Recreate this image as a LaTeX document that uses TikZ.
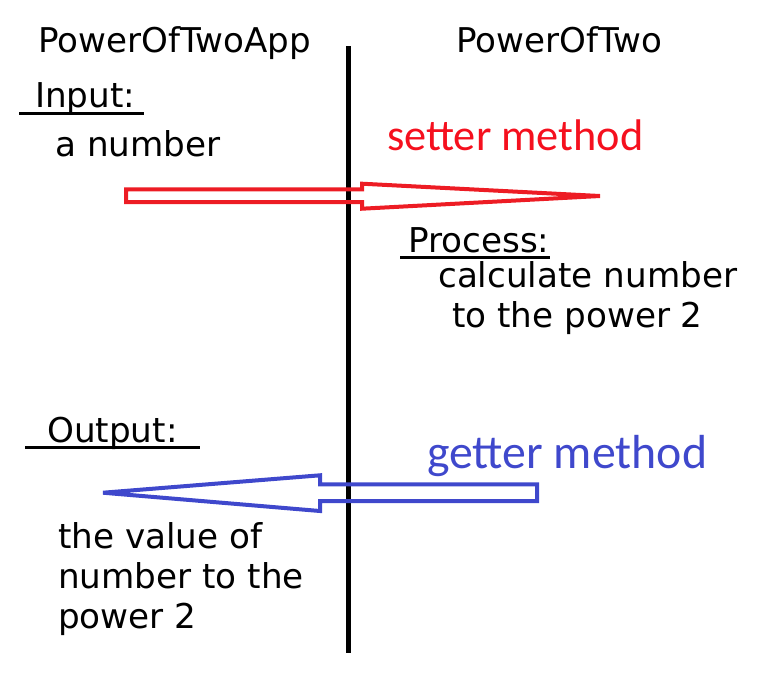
\documentclass[tikz,border=0pt]{standalone}
\usepackage{fontspec}
\setmainfont{DejaVu Sans}
\newfontfamily\calibri{Carlito}
\usetikzlibrary{positioning}
\definecolor{paintred}{HTML}{ED1C24}
\definecolor{paintblue}{HTML}{3F48CC}
\definecolor{setred}{HTML}{F5101E}

\begin{document}
\begin{tikzpicture}[
    x=1pt, y=-1pt,
    txt/.style={inner sep=0pt,anchor=base west,font=\fontsize{34.2}{40}\selectfont,align=left},
    title/.style={inner sep=0pt,anchor=base west,font=\fontsize{34.1}{40}\selectfont},
    method/.style={inner sep=0pt,anchor=base west,font=\calibri\fontsize{44.3}{50}\selectfont},
    uline/.style={line width=3pt},
    blockarrow/.style={line width=4pt,line join=miter}
    ]
        \useasboundingbox (0,0) rectangle (775,673);

        % the two sides
        \node [title](app) at (38,52) {PowerOfTwoApp};
        \node [title](pow) at (456,52) {PowerOfTwo};
        \coordinate (top) at (348.3,46);
        \coordinate (bot) at (348.3,653);
        \draw [line width=4.6pt] (top) -- (bot);

        % left side
        \node [txt](inp) at (35,107) {Input:};
        \draw [uline] ([shift={(-16pt,-6.5pt)}]inp.base west) -- ([shift={(9pt,-6.5pt)}]inp.base east);
        \node [txt](num) at (55,156) {a number};

        \node [txt](out) at (47,442) {Output:};
        \draw [uline] ([shift={(-22pt,-5.5pt)}]out.base west) -- ([shift={(22pt,-5.5pt)}]out.base east);
        % base of a block of lines = its last line
        \node [txt](val) at (58,628) {the value of\\number to the\\power 2};

        % right side
        \node [method,text=setred](set) at (387,150) {setter method};
        \node [txt](proc) at (408,252) {Process:};
        \draw [uline] ([shift={(-8pt,-5.5pt)}]proc.base west) -- ([shift={(0pt,-5.5pt)}]proc.base east);
        \node [txt](calc) at (438,327) {calculate number\\\hspace{14pt}to the power 2};
        \node [method,text=paintblue,font=\calibri\fontsize{47.8}{52}\selectfont](get) at (427,468) {getter method};

        % setter arrow
        \draw [blockarrow,paintred] (126,189.3) -- (362,189.3) -- (362,183.7) -- (600,196)
            -- (362,208.7) -- (362,202) -- (126,202) -- cycle;
        % getter arrow
        \draw [blockarrow,paintblue] (537,484.3) -- (320,484.3) -- (320,475.3) -- (103,492.7)
            -- (320,511) -- (320,501) -- (537,501) -- cycle;

\end{tikzpicture}
\end{document}
